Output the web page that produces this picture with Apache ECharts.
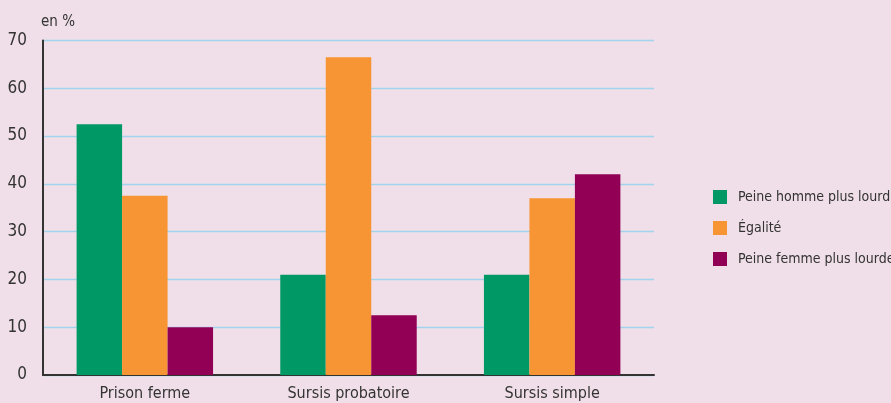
<!DOCTYPE html>
<html><head><meta charset="utf-8">
<script src="https://cdn.jsdelivr.net/npm/echarts@6/dist/echarts.min.js"></script>
<style>html,body{margin:0;padding:0;background:#F0DFE8;}#c{width:891px;height:403px;}</style>
</head><body><div id="c"></div>
<script>
const categories = ['Prison ferme', 'Sursis probatoire', 'Sursis simple'];
const seriesNames = ['Peine homme plus lourde', 'Égalité', 'Peine femme plus lourde'];
const hommeValues = [52.5, 21, 21];
const egaliteValues = [37.5, 66.5, 37];
const femmeValues = [10, 12.5, 42];
const yTicks = [0, 10, 20, 30, 40, 50, 60, 70];

const FONT = "'Liberation Sans Narrow', 'DejaVu Sans Condensed', sans-serif";
const colors = ['#009966', '#F79433', '#920056'];
const chart = echarts.init(document.getElementById('c'));
chart.setOption({
  backgroundColor: '#F0DFE8',
  animation: false,
  textStyle: { fontFamily: FONT },
  title: { text: 'en %', left: 41, top: 15, padding: [0, 0, 0, 0], textStyle: { fontFamily: FONT, fontSize: 15, fontWeight: 'normal', color: '#333' } },
  legend: {
    orient: 'vertical', left: 713, top: 190, padding: 0, itemWidth: 14, itemHeight: 14, itemGap: 17,
    icon: 'rect', data: seriesNames,
    textStyle: { fontFamily: FONT, fontSize: 14, color: '#333', padding: [0, 0, 0, 6] }
  },
  grid: { left: 43, right: 237, top: 40.5, bottom: 28, containLabel: false },
  xAxis: {
    type: 'category', data: categories,
    axisLine: { lineStyle: { color: '#333', width: 2 } },
    axisTick: { show: false },
    axisLabel: { fontFamily: FONT, fontSize: 16, color: '#333', margin: 11 }
  },
  yAxis: {
    type: 'value', min: yTicks[0], max: yTicks[yTicks.length - 1], interval: 10,
    axisLine: { show: true, lineStyle: { color: '#333', width: 2 } },
    axisTick: { show: false },
    axisLabel: { fontFamily: FONT, fontSize: 17, color: '#333', margin: 16 },
    splitLine: { lineStyle: { color: '#A3D2EC', width: 1.3 } }
  },
  series: [
    { name: seriesNames[0], type: 'bar', data: hommeValues, itemStyle: { color: colors[0] }, barGap: '0%', barCategoryGap: '33%' },
    { name: seriesNames[1], type: 'bar', data: egaliteValues, itemStyle: { color: colors[1] }, barGap: '0%', barCategoryGap: '33%' },
    { name: seriesNames[2], type: 'bar', data: femmeValues, itemStyle: { color: colors[2] }, barGap: '0%', barCategoryGap: '33%' }
  ]
});
</script></body></html>
